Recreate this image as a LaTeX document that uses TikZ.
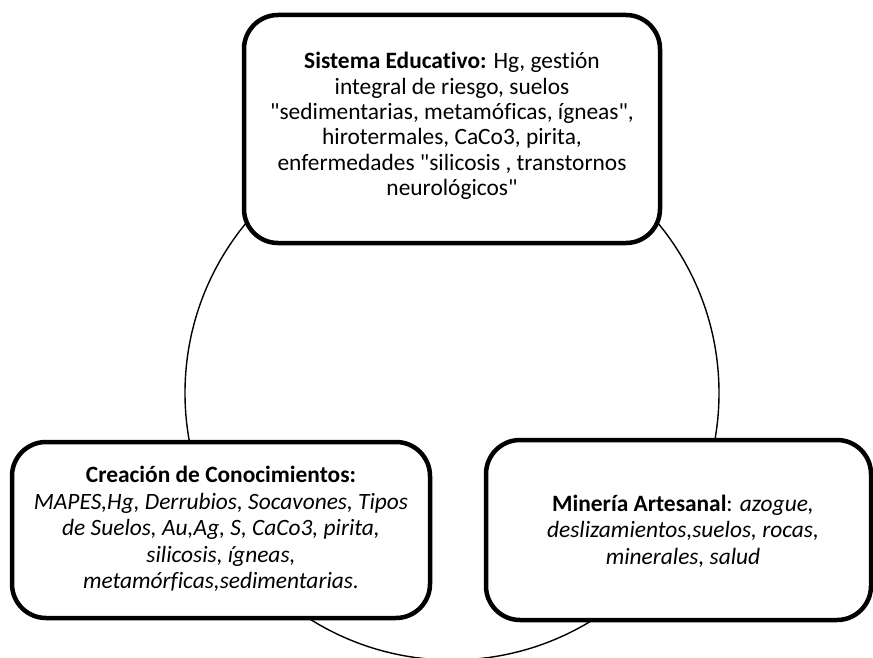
\documentclass[tikz,border=0pt]{standalone}
\usepackage{fontspec}
\setmainfont{Carlito}[Ligatures={ResetAll,NoCommon}]
\newcommand{\dq}{\XeTeXglyph\XeTeXcharglyph"0022\relax}
\begin{document}
\begin{tikzpicture}[x=1pt,y=-1pt,
  box/.style={draw=black, line width=4.5pt, rounded corners=34pt, fill=white, inner sep=0pt},
  lbl/.style={align=center, font=\fontsize{23.4}{25.4}\selectfont, inner sep=0pt}]
\useasboundingbox (0,0) rectangle (873,658);
\begin{scope}
\clip (0,0) rectangle (873,658);
\node[draw=black, line width=1.4pt, circle, minimum size=534pt, inner sep=0pt] (ring) at (452,393) {};
\end{scope}
\node[box, minimum width=416pt, minimum height=228pt] (edu) at (452,129) {};
\node[box, minimum width=418pt, minimum height=176pt] (cre) at (221,530) {};
\node[box, minimum width=385pt, minimum height=180pt] (min) at (678.5,530) {};
\node[lbl] (edut) at (452,126) {\textbf{Sistema Educativo:} Hg, gestión\\integral de riesgo, suelos\\ \dq sedimentarias, metamóficas, ígneas\dq,\\hirotermales, CaCo3, pirita,\\enfermedades \dq silicosis , transtornos\\neurológicos\dq};
\node[lbl, font=\fontsize{23.4}{26.5}\selectfont] (cret) at (221,529) {\textbf{Creación de Conocimientos:}\\\textit{MAPES,Hg, Derrubios, Socavones, Tipos}\\\textit{de Suelos, Au,Ag, S, CaCo3, pirita,}\\\textit{silicosis, ígneas,}\\\textit{metamórficas,sedimentarias.}};
\node[lbl, font=\fontsize{23.4}{26.5}\selectfont] (mint) at (683,531) {\textbf{Minería Artesanal}: \textit{azogue,}\\\textit{deslizamientos,suelos, rocas,}\\\textit{minerales, salud}};
\end{tikzpicture}
\end{document}
